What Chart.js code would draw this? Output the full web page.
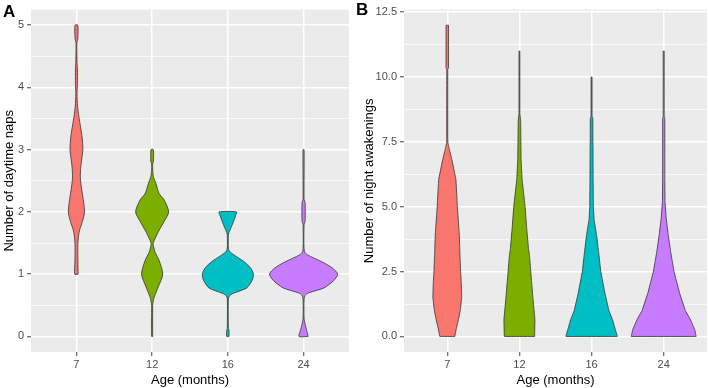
<!DOCTYPE html>
<html>
<head>
<meta charset="utf-8">
<script src="https://cdn.jsdelivr.net/npm/chart.js@4.4.0/dist/chart.umd.min.js"></script>
<style>
  body { margin: 0; background: #fff; width: 709px; height: 388px; position: relative; overflow: hidden; font-family: "Liberation Sans", Arial, sans-serif; }
  canvas { position: absolute; top: 0; }
  #chartA { left: 0; }
  #chartB { left: 352px; }
  .tag { position: absolute; font-weight: bold; font-size: 17px; color: #000; }
</style>
</head>
<body>
<canvas id="chartA" width="352" height="388"></canvas>
<canvas id="chartB" width="357" height="388"></canvas>
<div class="tag" style="left:3px; top:2px;">A</div>
<div class="tag" style="left:356px; top:0px;">B</div>
<script>
// categories and colours
const ageLabels = ['7', '12', '16', '24'];
const ageColors = ['#F8766D', '#7CAE00', '#00BFC4', '#C77CFF'];

// axis ticks
const napTicks = [0, 1, 2, 3, 4, 5];
const napMinor = [0.5, 1.5, 2.5, 3.5, 4.5];
const wakeTicks = [0, 2.5, 5, 7.5, 10, 12.5];
const wakeMinor = [1.25, 3.75, 6.25, 8.75, 11.25];

// panel A: daytime naps, violin outline (value level, half width in category units)
const napY7  = [1.0, 1.2, 1.4, 1.55, 1.7, 1.85, 2.0, 2.2, 2.4, 2.55, 2.7, 2.85, 3.0, 3.2, 3.4, 3.55, 3.7, 3.9, 4.05, 4.3, 4.4, 4.72, 4.78, 5.0];
const napW7  = [0.022, 0.02, 0.018, 0.022, 0.04, 0.08, 0.107, 0.09, 0.065, 0.052, 0.056, 0.07, 0.085, 0.075, 0.05, 0.03, 0.015, 0.008, 0.013, 0.013, 0.008, 0.006, 0.018, 0.018];
const napY12 = [0, 0.5, 0.55, 0.63, 0.8, 1.0, 1.22, 1.35, 1.42, 1.48, 1.53, 1.69, 1.85, 2.0, 2.19, 2.3, 2.47, 2.55, 2.65, 2.78, 2.8, 3.0];
const napW12 = [0.007, 0.007, 0.012, 0.027, 0.082, 0.14, 0.093, 0.04, 0.023, 0.012, 0.023, 0.085, 0.16, 0.218, 0.16, 0.09, 0.047, 0.02, 0.008, 0.008, 0.016, 0.016];
const napY16 = [0, 0.1, 0.13, 0.6, 0.65, 0.69, 0.78, 0.9, 1.0, 1.1, 1.2, 1.31, 1.37, 1.42, 1.62, 1.67, 1.8, 1.95, 2.0];
const napW16 = [0.015, 0.015, 0.007, 0.007, 0.02, 0.067, 0.25, 0.32, 0.338, 0.3, 0.215, 0.08, 0.02, 0.007, 0.007, 0.015, 0.06, 0.105, 0.116];
const napY24 = [0, 0.1, 0.2, 0.28, 0.6, 0.66, 0.7, 0.78, 0.9, 1.0, 1.1, 1.2, 1.31, 1.37, 1.8, 1.85, 2.15, 2.2, 3.0];
const napW24 = [0.06, 0.04, 0.02, 0.007, 0.007, 0.02, 0.067, 0.27, 0.4, 0.45, 0.38, 0.24, 0.053, 0.01, 0.007, 0.02, 0.02, 0.007, 0.007];

// panel B: night awakenings
const wakeY7  = [0, 0.3, 0.65, 1.0, 1.5, 2.0, 2.5, 3.2, 3.9, 5.0, 6.05, 6.8, 7.2, 7.45, 7.6, 10.3, 10.35, 12];
const wakeW7  = [0.104, 0.125, 0.155, 0.18, 0.2, 0.195, 0.185, 0.175, 0.167, 0.14, 0.12, 0.065, 0.03, 0.01, 0.007, 0.007, 0.017, 0.017];
const wakeY12 = [0, 0.65, 1.4, 2.5, 3.1, 3.4, 4.2, 5.0, 6.05, 6.8, 7.5, 8.3, 8.5, 8.6, 11];
const wakeW12 = [0.21, 0.215, 0.19, 0.157, 0.14, 0.125, 0.1, 0.079, 0.037, 0.023, 0.02, 0.017, 0.01, 0.006, 0.006];
const wakeY16 = [0, 0.26, 0.65, 1.0, 1.67, 2.5, 3.2, 3.9, 4.5, 5.0, 6.0, 7.3, 7.5, 8.4, 8.5, 10];
const wakeW16 = [0.357, 0.33, 0.29, 0.24, 0.185, 0.128, 0.1, 0.07, 0.035, 0.025, 0.022, 0.02, 0.018, 0.018, 0.007, 0.007];
const wakeY24 = [0, 0.26, 0.65, 1.0, 1.67, 2.5, 3.2, 3.9, 4.55, 5.2, 6.0, 8.4, 8.5, 11];
const wakeW24 = [0.45, 0.43, 0.37, 0.3, 0.22, 0.143, 0.1, 0.063, 0.035, 0.018, 0.015, 0.015, 0.007, 0.007];

// closed outline: right side upwards, left side back down
function violin(pos, ys, ws) {
    const pts = [];
    for (let i = 0; i < ys.length; i++) pts.push({ x: pos + ws[i], y: ys[i] });
    for (let i = ys.length - 1; i >= 0; i--) pts.push({ x: pos - ws[i], y: ys[i] });
    pts.push(pts[0]);
    return pts;
}

function makeDatasets(groups, tension) {
    return groups.map((g, i) => ({
        data: violin(i + 1, g[0], g[1]),
        showLine: true,
        fill: 'shape',
        backgroundColor: ageColors[i],
        borderColor: '#333333',
        borderWidth: 0.8,
        pointRadius: 0,
        tension: tension   // never exactly 0: the fast path assumes x is sorted
    }));
}

const panelBg = {
    id: 'panelBg',
    beforeDraw(chart) {
        const { ctx, chartArea: a } = chart;
        ctx.save();
        ctx.fillStyle = '#EBEBEB';
        ctx.fillRect(a.left, a.top, a.right - a.left, a.bottom - a.top);
        ctx.restore();
    }
};

function makeChart(id, groups, opts) {
    const major = opts.ticks;
    const isMajor = v => major.some(t => Math.abs(t - v) < 1e-6);
    return new Chart(document.getElementById(id), {
        type: 'scatter',
        data: { datasets: makeDatasets(groups, opts.tension) },
        options: {
            responsive: false,
            animation: false,
            layout: { padding: { top: 2, right: opts.padRight, bottom: 0, left: 0 } },
            plugins: { legend: { display: false }, tooltip: { enabled: false } },
            scales: {
                x: {
                    type: 'linear',
                    min: 0.4,
                    max: 4.6,
                    afterBuildTicks: s => { s.ticks = ageLabels.map((l, i) => ({ value: i + 1 })); },
                    afterFit: s => { s.height = 36; },
                    border: { display: false },
                    grid: { color: '#ffffff', lineWidth: 1.5, tickColor: '#444', tickLength: 4, tickWidth: 1 },
                    ticks: {
                        padding: 2,
                        color: '#4d4d4d',
                        font: { family: 'Liberation Sans', size: 11 },
                        callback: v => ageLabels[Math.round(v) - 1]
                    },
                    title: {
                        display: true,
                        text: 'Age (months)',
                        color: '#000',
                        font: { family: 'Liberation Sans', size: 13 },
                        padding: { top: 0, bottom: 0 }
                    }
                },
                y: {
                    type: 'linear',
                    min: opts.min,
                    max: opts.max,
                    afterBuildTicks: s => {
                        s.ticks = opts.ticks.concat(opts.minor).sort((a, b) => a - b).map(v => ({ value: v }));
                    },
                    afterFit: s => { s.width = opts.axisWidth; },
                    border: { display: false },
                    grid: {
                        color: '#ffffff',
                        lineWidth: c => isMajor(c.tick.value) ? 1.5 : 0.7,
                        tickColor: c => isMajor(c.tick.value) ? '#444' : 'rgba(0,0,0,0)',
                        tickLength: 4,
                        tickWidth: 1
                    },
                    ticks: {
                        padding: 3,
                        color: '#4d4d4d',
                        font: { family: 'Liberation Sans', size: 11 },
                        callback: v => isMajor(v) ? opts.fmt(v) : ''
                    },
                    title: {
                        display: true,
                        text: opts.title,
                        color: '#000',
                        font: { family: 'Liberation Sans', size: 13 },
                        padding: { top: opts.titlePad, bottom: 0 }
                    }
                }
            }
        },
        plugins: [panelBg]
    });
}

makeChart('chartA',
    [[napY7, napW7], [napY12, napW12], [napY16, napW16], [napY24, napW24]],
    { min: -0.25, max: 5.25, ticks: napTicks, minor: napMinor, axisWidth: 31, padRight: 3,
      title: 'Number of daytime naps', titlePad: 2, tension: 0.25, fmt: v => String(v) });

makeChart('chartB',
    [[wakeY7, wakeW7], [wakeY12, wakeW12], [wakeY16, wakeW16], [wakeY24, wakeW24]],
    { min: -0.6, max: 12.6, ticks: wakeTicks, minor: wakeMinor, axisWidth: 52, padRight: 2,
      title: 'Number of night awakenings', titlePad: 10, tension: 0.001, fmt: v => v.toFixed(1) });
</script>
</body>
</html>
